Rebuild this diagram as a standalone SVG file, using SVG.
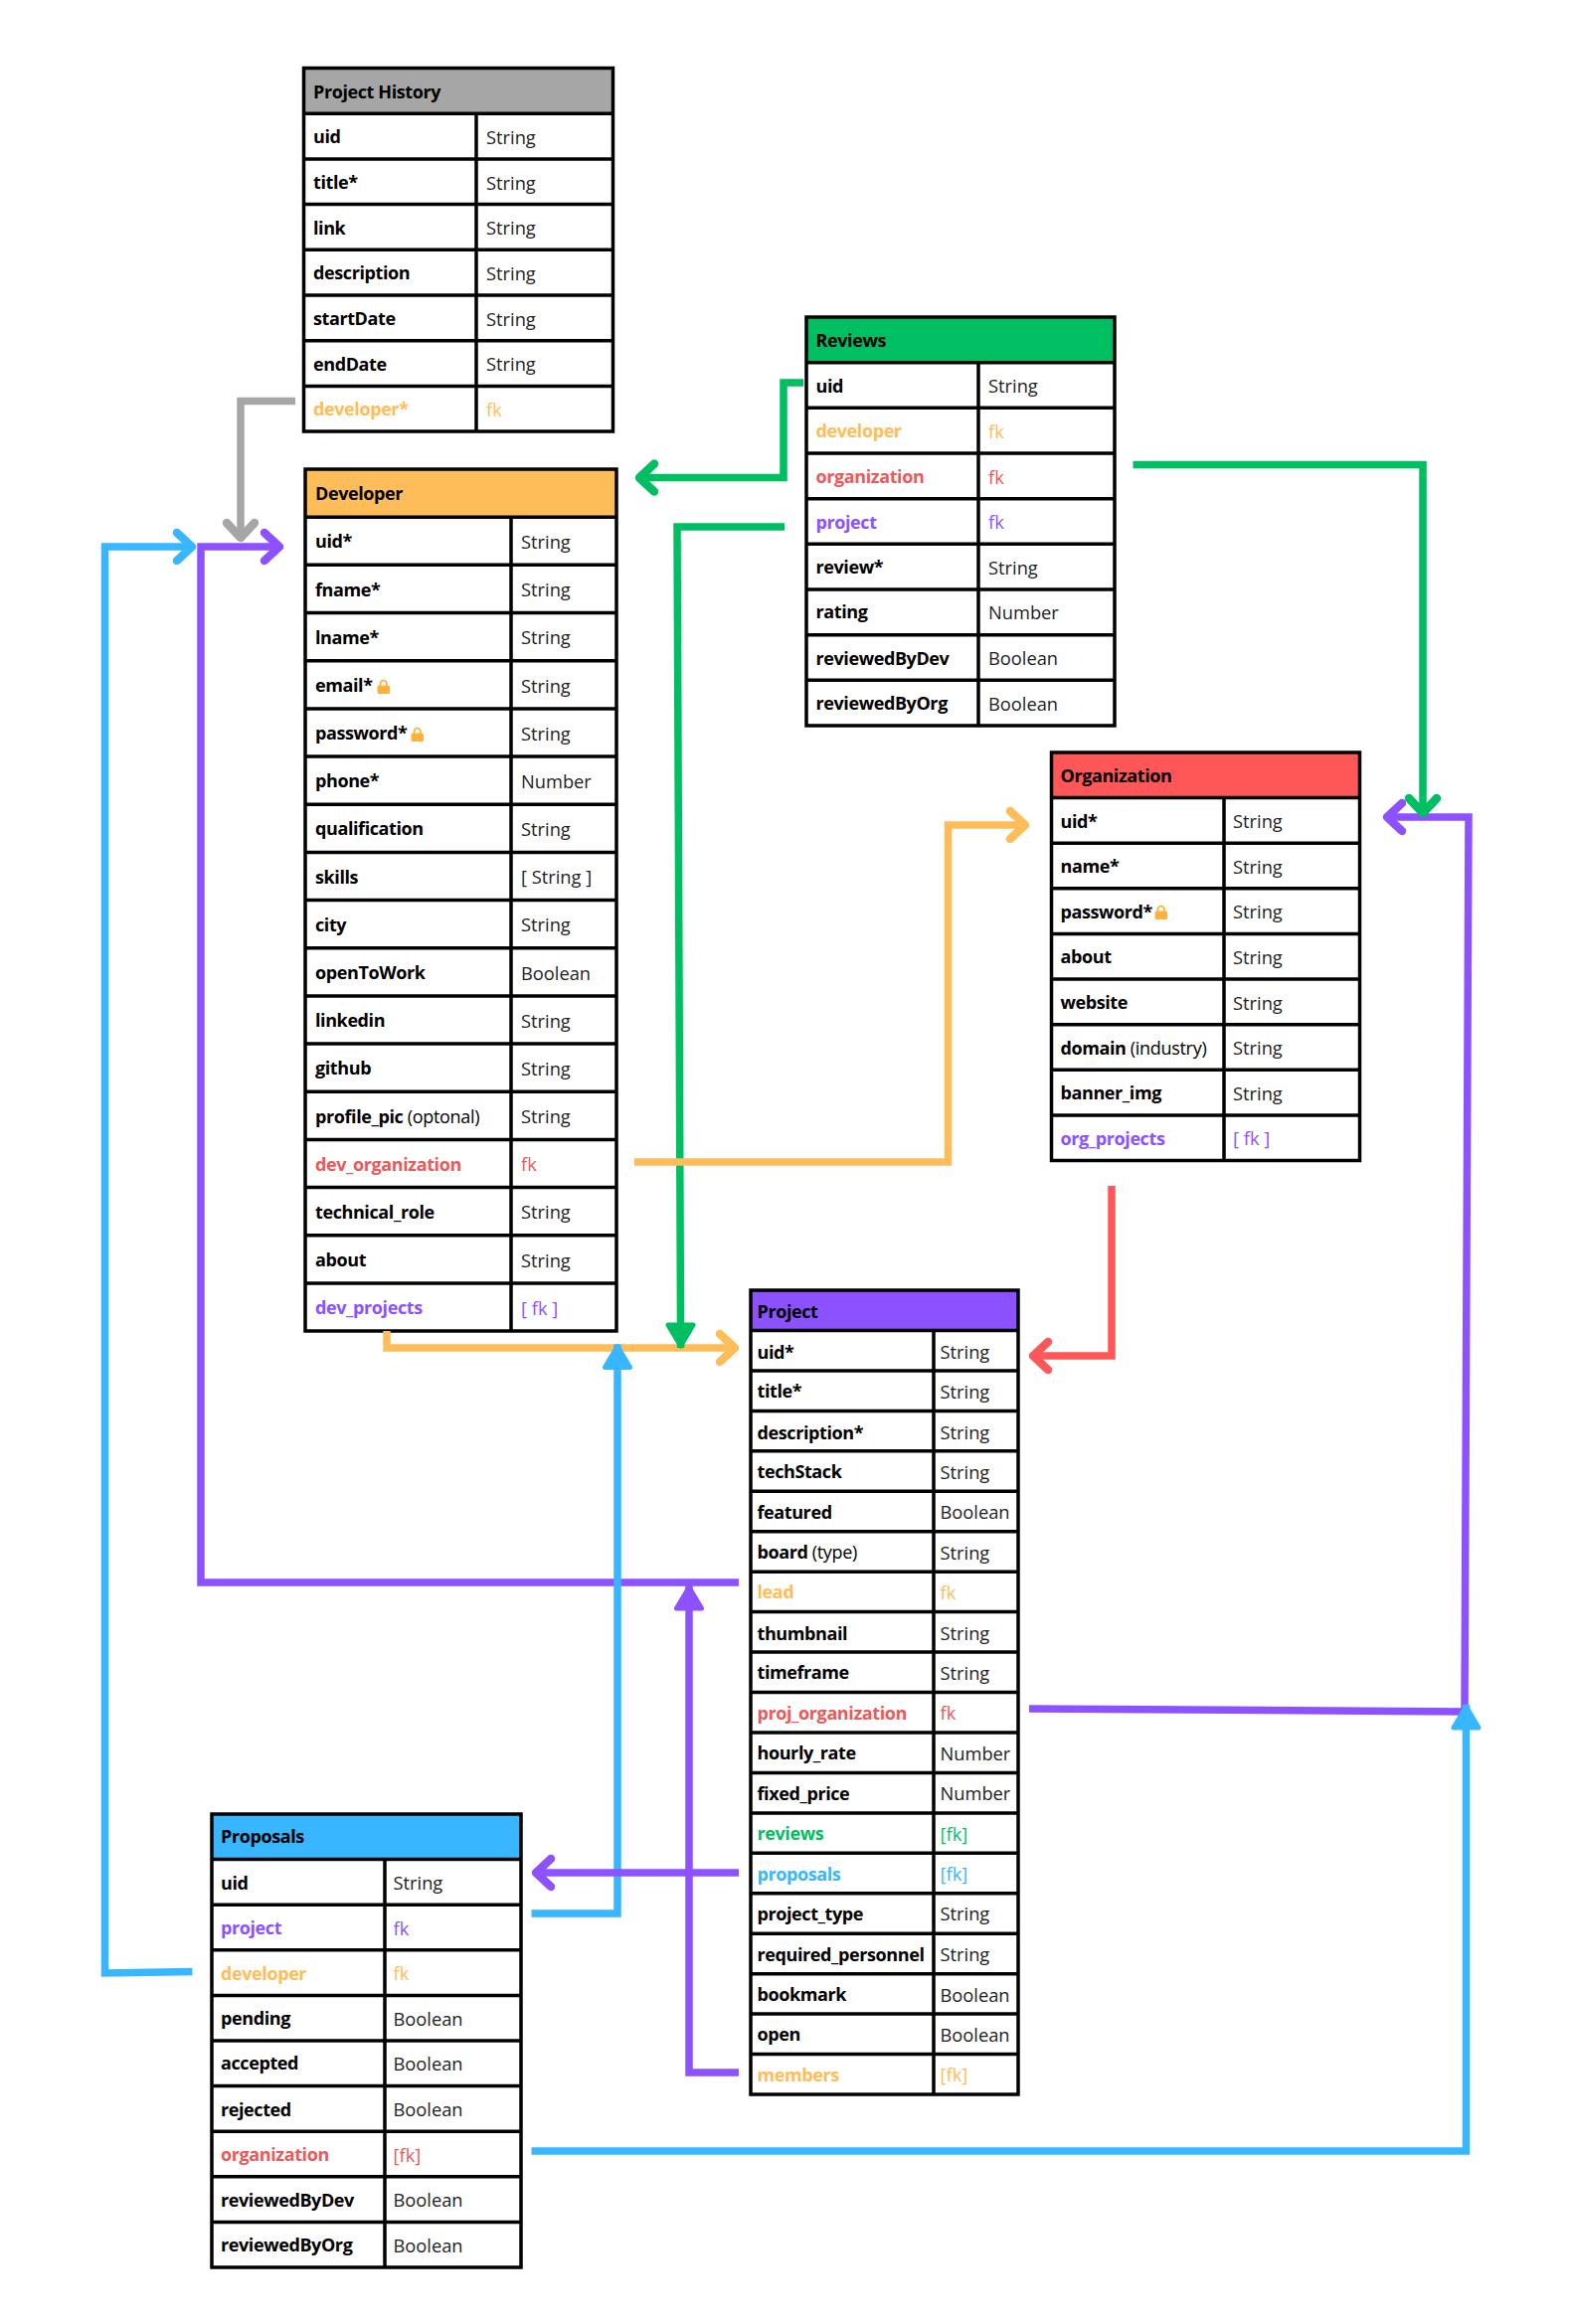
<svg xmlns="http://www.w3.org/2000/svg" width="1581" height="2338" viewBox="0 0 1581 2338">
<style>
text{font-family:"Open Sans","Noto Sans",sans-serif;font-size:18.5px;dominant-baseline:central;fill:#000}
.l,.h{font-weight:700;font-size:18px;letter-spacing:-0.4px}
.v{font-weight:400;fill:#222;font-size:18.3px}
.n{font-weight:400;letter-spacing:-0.3px}
.o{fill:#ffbd59}.r{fill:#ea5a5a}.p{fill:#8c52ff}.b{fill:#38b6ff}.g{fill:#00bf63}
.grid{fill:none;stroke:#000;stroke-width:3.5}
.c{fill:none;stroke-width:7.5;stroke-linejoin:miter}
.open{fill:none;stroke-width:8.5;stroke-linecap:round;stroke-linejoin:round}
.solid{stroke-width:5;stroke-linejoin:round}
</style>
<defs>
<g id="lock"><path d="M3.5 7V4.8a3.2 3.2 0 0 1 6.4 0V7" fill="none" stroke="#ffb13d" stroke-width="1.8"/><rect x="0.5" y="6.5" width="12.5" height="8.5" rx="1.5" fill="#ffb13d"/></g>
<marker id="a-gray" markerUnits="userSpaceOnUse" viewBox="-30 -24 38 48" markerWidth="38" markerHeight="48" refX="-3" refY="0" orient="auto"><path class="open" stroke="#a6a6a6" d="M-18 -14L-3 0L-18 14"/></marker>
<marker id="a-purple" markerUnits="userSpaceOnUse" viewBox="-30 -24 38 48" markerWidth="38" markerHeight="48" refX="-3" refY="0" orient="auto"><path class="open" stroke="#8c52ff" d="M-18 -14L-3 0L-18 14"/></marker>
<marker id="a-blue" markerUnits="userSpaceOnUse" viewBox="-30 -24 38 48" markerWidth="38" markerHeight="48" refX="-3" refY="0" orient="auto"><path class="open" stroke="#38b6ff" d="M-18 -14L-3 0L-18 14"/></marker>
<marker id="a-green" markerUnits="userSpaceOnUse" viewBox="-30 -24 38 48" markerWidth="38" markerHeight="48" refX="-3" refY="0" orient="auto"><path class="open" stroke="#00bf63" d="M-18 -14L-3 0L-18 14"/></marker>
<marker id="a-orange" markerUnits="userSpaceOnUse" viewBox="-30 -24 38 48" markerWidth="38" markerHeight="48" refX="-3" refY="0" orient="auto"><path class="open" stroke="#ffbd59" d="M-18 -14L-3 0L-18 14"/></marker>
<marker id="a-red" markerUnits="userSpaceOnUse" viewBox="-30 -24 38 48" markerWidth="38" markerHeight="48" refX="-3" refY="0" orient="auto"><path class="open" stroke="#ff5757" d="M-18 -14L-3 0L-18 14"/></marker>
<marker id="s-green" markerUnits="userSpaceOnUse" viewBox="-30 -24 38 48" markerWidth="38" markerHeight="48" refX="0" refY="0" orient="auto"><path class="solid" fill="#00bf63" stroke="#00bf63" d="M-2 0L-23 -12.5L-23 12.5Z"/></marker>
<marker id="s-blue" markerUnits="userSpaceOnUse" viewBox="-30 -24 38 48" markerWidth="38" markerHeight="48" refX="0" refY="0" orient="auto"><path class="solid" fill="#38b6ff" stroke="#38b6ff" d="M-2 0L-23 -12.5L-23 12.5Z"/></marker>
<marker id="s-purple" markerUnits="userSpaceOnUse" viewBox="-30 -24 38 48" markerWidth="38" markerHeight="48" refX="0" refY="0" orient="auto"><path class="solid" fill="#8c52ff" stroke="#8c52ff" d="M-2 0L-23 -12.5L-23 12.5Z"/></marker>
</defs>
<rect width="1581" height="2338" fill="#fff"/>

<g id="node-project-history">
<rect x="305.5" y="68.5" width="311" height="45.7" fill="#a6a6a6"/>
<path class="grid" d="M305.5 68.5H616.5V434H305.5ZM305.5 114.2H616.5M305.5 159.9H616.5M305.5 205.6H616.5M305.5 251.3H616.5M305.5 297H616.5M305.5 342.7H616.5M305.5 388.4H616.5M479 114.2V434"/>
<text class="h" x="315" y="91.5">Project History</text>
<text class="l" x="315" y="137">uid</text><text class="v" x="489" y="137">String</text>
<text class="l" x="315" y="183">title*</text><text class="v" x="489" y="183">String</text>
<text class="l" x="315" y="228.5">link</text><text class="v" x="489" y="228.5">String</text>
<text class="l" x="315" y="274">description</text><text class="v" x="489" y="274">String</text>
<text class="l" x="315" y="320">startDate</text><text class="v" x="489" y="320">String</text>
<text class="l" x="315" y="365.5">endDate</text><text class="v" x="489" y="365.5">String</text>
<text class="l o" x="315" y="411">developer*</text><text class="v o" x="489" y="411">fk</text>
</g>

<g id="node-developer">
<rect x="307" y="472" width="313" height="48.2" fill="#ffbd59"/>
<path class="grid" d="M307 472H620V1339H307ZM307 520.2H620M307 568.3H620M307 616.5H620M307 664.7H620M307 712.9H620M307 761H620M307 809.2H620M307 857.4H620M307 905.5H620M307 953.7H620M307 1001.9H620M307 1050H620M307 1098.2H620M307 1146.4H620M307 1194.6H620M307 1242.7H620M307 1290.9H620M514 520.2V1339"/>
<text class="h" x="317" y="496">Developer</text>
<text class="l" x="317" y="544">uid*</text><text class="v" x="524" y="544">String</text>
<text class="l" x="317" y="592.5">fname*</text><text class="v" x="524" y="592.5">String</text>
<text class="l" x="317" y="640.5">lname*</text><text class="v" x="524" y="640.5">String</text>
<text class="l" x="317" y="689">email*</text><use href="#lock" x="379" y="683"/><text class="v" x="524" y="689">String</text>
<text class="l" x="317" y="737">password*</text><use href="#lock" x="413" y="731"/><text class="v" x="524" y="737">String</text>
<text class="l" x="317" y="785">phone*</text><text class="v" x="524" y="785">Number</text>
<text class="l" x="317" y="833">qualification</text><text class="v" x="524" y="833">String</text>
<text class="l" x="317" y="881.5">skills</text><text class="v" x="524" y="881.5">[ String ]</text>
<text class="l" x="317" y="929.5">city</text><text class="v" x="524" y="929.5">String</text>
<text class="l" x="317" y="978">openToWork</text><text class="v" x="524" y="978">Boolean</text>
<text class="l" x="317" y="1026">linkedin</text><text class="v" x="524" y="1026">String</text>
<text class="l" x="317" y="1074">github</text><text class="v" x="524" y="1074">String</text>
<text class="l" x="317" y="1122.5">profile_pic <tspan class="n">(optonal)</tspan></text><text class="v" x="524" y="1122.5">String</text>
<text class="l r" x="317" y="1170.5">dev_organization</text><text class="v r" x="524" y="1170.5">fk</text>
<text class="l" x="317" y="1218.5">technical_role</text><text class="v" x="524" y="1218.5">String</text>
<text class="l" x="317" y="1267">about</text><text class="v" x="524" y="1267">String</text>
<text class="l p" x="317" y="1315">dev_projects</text><text class="v p" x="524" y="1315">[ fk ]</text>
</g>

<g id="node-reviews">
<rect x="811" y="319" width="310" height="45.7" fill="#00bf63"/>
<path class="grid" d="M811 319H1121V730H811ZM811 364.7H1121M811 410.3H1121M811 456H1121M811 501.7H1121M811 547.3H1121M811 593H1121M811 638.7H1121M811 684.3H1121M984 364.7V730"/>
<text class="h" x="820.5" y="342">Reviews</text>
<text class="l" x="820.5" y="387.5">uid</text><text class="v" x="994" y="387.5">String</text>
<text class="l o" x="820.5" y="433">developer</text><text class="v o" x="994" y="433">fk</text>
<text class="l r" x="820.5" y="479">organization</text><text class="v r" x="994" y="479">fk</text>
<text class="l p" x="820.5" y="524.5">project</text><text class="v p" x="994" y="524.5">fk</text>
<text class="l" x="820.5" y="570">review*</text><text class="v" x="994" y="570">String</text>
<text class="l" x="820.5" y="615">rating</text><text class="v" x="994" y="615">Number</text>
<text class="l" x="820.5" y="661.5">reviewedByDev</text><text class="v" x="994" y="661.5">Boolean</text>
<text class="l" x="820.5" y="707">reviewedByOrg</text><text class="v" x="994" y="707">Boolean</text>
</g>

<g id="node-organization">
<rect x="1057.5" y="757" width="310" height="45.6" fill="#ff5757"/>
<path class="grid" d="M1057.5 757H1367.5V1167.5H1057.5ZM1057.5 802.6H1367.5M1057.5 848.2H1367.5M1057.5 893.8H1367.5M1057.5 939.4H1367.5M1057.5 985H1367.5M1057.5 1030.7H1367.5M1057.5 1076.3H1367.5M1057.5 1121.9H1367.5M1231 802.6V1167.5"/>
<text class="h" x="1066.5" y="780">Organization</text>
<text class="l" x="1066.5" y="825.5">uid*</text><text class="v" x="1240" y="825.5">String</text>
<text class="l" x="1066.5" y="871">name*</text><text class="v" x="1240" y="871">String</text>
<text class="l" x="1066.5" y="916.5">password*</text><use href="#lock" x="1161" y="910"/><text class="v" x="1240" y="916.5">String</text>
<text class="l" x="1066.5" y="962">about</text><text class="v" x="1240" y="962">String</text>
<text class="l" x="1066.5" y="1008">website</text><text class="v" x="1240" y="1008">String</text>
<text class="l" x="1066.5" y="1053.5">domain <tspan class="n">(industry)</tspan></text><text class="v" x="1240" y="1053.5">String</text>
<text class="l" x="1066.5" y="1099">banner_img</text><text class="v" x="1240" y="1099">String</text>
<text class="l p" x="1066.5" y="1144.5">org_projects</text><text class="v p" x="1240" y="1144.5">[ fk ]</text>
</g>

<g id="node-project">
<rect x="755" y="1298" width="269" height="40.5" fill="#8c52ff"/>
<path class="grid" d="M755 1298H1024V2107H755ZM755 1338.5H1024M755 1378.9H1024M755 1419.4H1024M755 1459.8H1024M755 1500.3H1024M755 1540.7H1024M755 1581.2H1024M755 1621.6H1024M755 1662.1H1024M755 1702.5H1024M755 1743H1024M755 1783.4H1024M755 1823.9H1024M755 1864.3H1024M755 1904.8H1024M755 1945.2H1024M755 1985.7H1024M755 2026.1H1024M755 2066.6H1024M939 1338.5V2107"/>
<text class="h" x="761.5" y="1319">Project</text>
<text class="l" x="761.5" y="1359.5">uid*</text><text class="v" x="945.5" y="1359.5">String</text>
<text class="l" x="761.5" y="1399">title*</text><text class="v" x="945.5" y="1399">String</text>
<text class="l" x="761.5" y="1440.5">description*</text><text class="v" x="945.5" y="1440.5">String</text>
<text class="l" x="761.5" y="1480">techStack</text><text class="v" x="945.5" y="1480">String</text>
<text class="l" x="761.5" y="1520.5">featured</text><text class="v" x="945.5" y="1520.5">Boolean</text>
<text class="l" x="761.5" y="1561">board <tspan class="n">(type)</tspan></text><text class="v" x="945.5" y="1561">String</text>
<text class="l o" x="761.5" y="1601.4">lead</text><text class="v o" x="945.5" y="1601.4">fk</text>
<text class="l" x="761.5" y="1642.5">thumbnail</text><text class="v" x="945.5" y="1642.5">String</text>
<text class="l" x="761.5" y="1682.3">timeframe</text><text class="v" x="945.5" y="1682.3">String</text>
<text class="l r" x="761.5" y="1722.8">proj_organization</text><text class="v r" x="945.5" y="1722.8">fk</text>
<text class="l" x="761.5" y="1763.2">hourly_rate</text><text class="v" x="945.5" y="1763.2">Number</text>
<text class="l" x="761.5" y="1803.6">fixed_price</text><text class="v" x="945.5" y="1803.6">Number</text>
<text class="l g" x="761.5" y="1844">reviews</text><text class="v g" x="945.5" y="1844">[fk]</text>
<text class="l b" x="761.5" y="1884.5">proposals</text><text class="v b" x="945.5" y="1884.5">[fk]</text>
<text class="l" x="761.5" y="1924.5">project_type</text><text class="v" x="945.5" y="1924.5">String</text>
<text class="l" x="761.5" y="1965.5">required_personnel</text><text class="v" x="945.5" y="1965.5">String</text>
<text class="l" x="761.5" y="2006">bookmark</text><text class="v" x="945.5" y="2006">Boolean</text>
<text class="l" x="761.5" y="2046">open</text><text class="v" x="945.5" y="2046">Boolean</text>
<text class="l o" x="761.5" y="2086.8">members</text><text class="v o" x="945.5" y="2086.8">[fk]</text>
</g>

<g id="node-proposals">
<rect x="213" y="1825" width="311" height="45.6" fill="#38b6ff"/>
<path class="grid" d="M213 1825H524V2281H213ZM213 1870.6H524M213 1916.2H524M213 1961.8H524M213 2007.4H524M213 2053H524M213 2098.6H524M213 2144.2H524M213 2189.8H524M213 2235.4H524M387 1870.6V2281"/>
<text class="h" x="222" y="1847">Proposals</text>
<text class="l" x="222" y="1893.5">uid</text><text class="v" x="395.5" y="1893.5">String</text>
<text class="l p" x="222" y="1939">project</text><text class="v p" x="395.5" y="1939">fk</text>
<text class="l o" x="222" y="1984.5">developer</text><text class="v o" x="395.5" y="1984.5">fk</text>
<text class="l" x="222" y="2030">pending</text><text class="v" x="395.5" y="2030">Boolean</text>
<text class="l" x="222" y="2075">accepted</text><text class="v" x="395.5" y="2075">Boolean</text>
<text class="l" x="222" y="2121.5">rejected</text><text class="v" x="395.5" y="2121.5">Boolean</text>
<text class="l r" x="222" y="2167">organization</text><text class="v r" x="395.5" y="2167">[fk]</text>
<text class="l" x="222" y="2212.5">reviewedByDev</text><text class="v" x="395.5" y="2212.5">Boolean</text>
<text class="l" x="222" y="2258">reviewedByOrg</text><text class="v" x="395.5" y="2258">Boolean</text>
</g>

<g id="connectors">
<path class="c" stroke="#a6a6a6" marker-end="url(#a-gray)" d="M297 403.5H242V541"/>
<path class="c" stroke="#38b6ff" marker-end="url(#a-blue)" d="M193.5 1983.5L105.5 1985V550H193"/>
<path class="c" stroke="#8c52ff" marker-end="url(#a-purple)" d="M743 1592H202V550H281"/>
<path class="c" stroke="#ffbd59" marker-end="url(#a-orange)" d="M389 1339V1356H739"/>
<path class="c" stroke="#00bf63" marker-end="url(#a-green)" d="M808 385H788V480.6H643"/>
<path class="c" stroke="#00bf63" marker-end="url(#s-green)" d="M789 530H681L684.6 1356"/>
<path class="c" stroke="#8c52ff" marker-end="url(#a-purple)" d="M1035 1719L1473 1722L1477 822H1395"/>
<path class="c" stroke="#00bf63" marker-end="url(#a-green)" d="M1139.5 467.5H1431V818"/>
<path class="c" stroke="#ffbd59" marker-end="url(#a-orange)" d="M638 1169H953.5V830H1031"/>
<path class="c" stroke="#ff5757" marker-end="url(#a-red)" d="M1118 1193V1364H1039"/>
<path class="c" stroke="#38b6ff" marker-end="url(#s-blue)" d="M534.5 1925H621V1352.5"/>
<path class="c" stroke="#8c52ff" marker-end="url(#a-purple)" d="M743 1884H539"/>
<path class="c" stroke="#8c52ff" marker-end="url(#s-purple)" d="M743 2085H693V1595"/>
<path class="c" stroke="#38b6ff" marker-end="url(#s-blue)" d="M534.5 2164H1474.5V1715"/>
</g>
</svg>
